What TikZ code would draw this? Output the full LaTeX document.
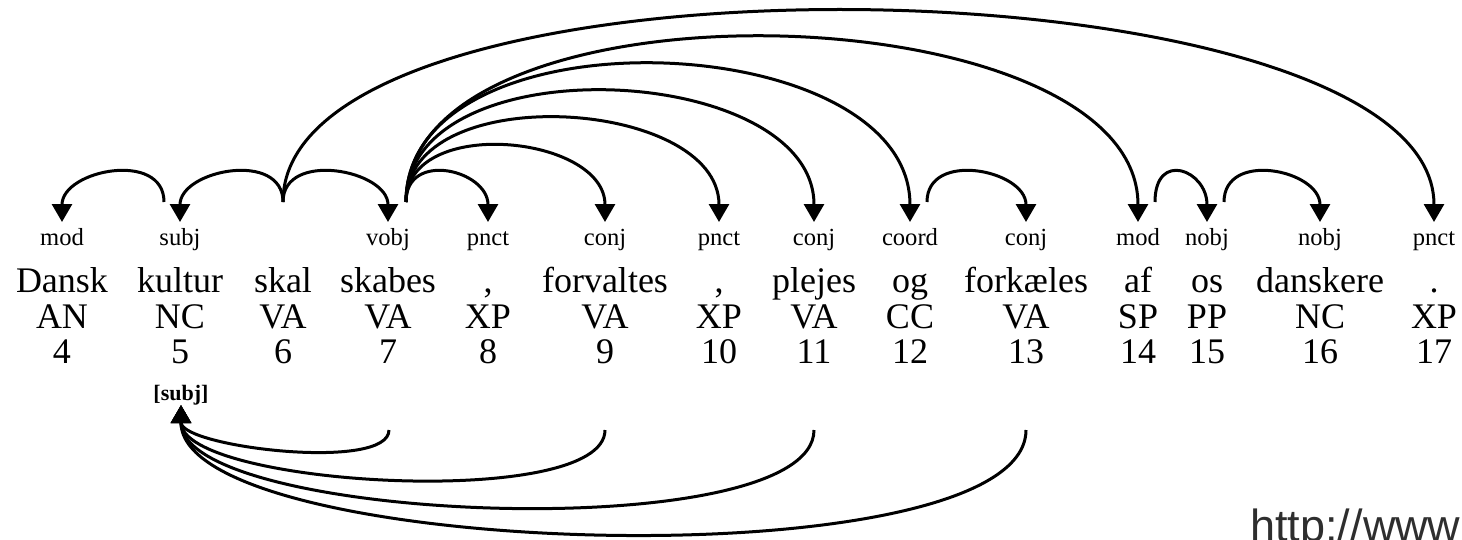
\documentclass[tikz,border=0pt]{standalone}
\usepackage{fontspec}
\setmainfont{Liberation Serif}
\newfontfamily\urlfont{Liberation Sans}
\usetikzlibrary{arrows.meta}

\tikzset{
  word/.style={anchor=base, inner sep=0pt, font=\fontsize{18}{18}\selectfont},
  rel/.style={anchor=base, inner sep=0pt, font=\fontsize{12.3}{12.3}\selectfont},
  dep/.style={line width=1.5pt, -{Triangle[length=9pt,width=10pt]}}
}

\begin{document}
\begin{tikzpicture}[x=0.5pt,y=-0.5pt]
\useasboundingbox (0,0) rectangle (1462,540);
\clip (0,0) rectangle (1462,540);
% arrow tips (dependents)
\coordinate (d4) at (62,222);
\coordinate (d5) at (180,222);
\coordinate (d7) at (388,222);
\coordinate (d8) at (488,222);
\coordinate (d9) at (605,222);
\coordinate (d10) at (719,222);
\coordinate (d11) at (814,222);
\coordinate (d12) at (910,222);
\coordinate (d13) at (1026,222);
\coordinate (d14) at (1138,222);
\coordinate (d15) at (1207,222);
\coordinate (d16) at (1320,222);
\coordinate (d17) at (1434,222);
% arc feet (heads)
\coordinate (g5) at (164,202);
\coordinate (g6) at (283,202);
\coordinate (g7) at (406,202);
\coordinate (g12) at (927,202);
\coordinate (g14) at (1155,202);
\coordinate (g15) at (1224,202);
% Dansk
\node[rel] (r4) at (62,245) {mod};
\node[word] (w4) at (62,292) {Dansk};
\node[word] (t4) at (62,328) {AN};
\node[word] (n4) at (62,363) {4};
% kultur
\node[rel] (r5) at (180,245) {subj};
\node[word] (w5) at (180,292) {kultur};
\node[word] (t5) at (180,328) {NC};
\node[word] (n5) at (180,363) {5};
\node[anchor=base, inner sep=0pt, font=\bfseries\fontsize{11}{11}\selectfont] (s5) at (181,400) {[subj]};
% skal
\node[word] (w6) at (283,292) {skal};
\node[word] (t6) at (283,328) {VA};
\node[word] (n6) at (283,363) {6};
% skabes
\node[rel] (r7) at (388,245) {vobj};
\node[word] (w7) at (388,292) {skabes};
\node[word] (t7) at (388,328) {VA};
\node[word] (n7) at (388,363) {7};
% ,
\node[rel] (r8) at (488,245) {pnct};
\node[word] (w8) at (488,292) {,};
\node[word] (t8) at (488,328) {XP};
\node[word] (n8) at (488,363) {8};
% forvaltes
\node[rel] (r9) at (605,245) {conj};
\node[word] (w9) at (605,292) {forvaltes};
\node[word] (t9) at (605,328) {VA};
\node[word] (n9) at (605,363) {9};
% ,
\node[rel] (r10) at (719,245) {pnct};
\node[word] (w10) at (719,292) {,};
\node[word] (t10) at (719,328) {XP};
\node[word] (n10) at (719,363) {10};
% plejes
\node[rel] (r11) at (814,245) {conj};
\node[word] (w11) at (814,292) {plejes};
\node[word] (t11) at (814,328) {VA};
\node[word] (n11) at (814,363) {11};
% og
\node[rel] (r12) at (910,245) {coord};
\node[word] (w12) at (910,292) {og};
\node[word] (t12) at (910,328) {CC};
\node[word] (n12) at (910,363) {12};
% forkæles
\node[rel] (r13) at (1026,245) {conj};
\node[word] (w13) at (1026,292) {forkæles};
\node[word] (t13) at (1026,328) {VA};
\node[word] (n13) at (1026,363) {13};
% af
\node[rel] (r14) at (1138,245) {mod};
\node[word] (w14) at (1138,292) {af};
\node[word] (t14) at (1138,328) {SP};
\node[word] (n14) at (1138,363) {14};
% os
\node[rel] (r15) at (1207,245) {nobj};
\node[word] (w15) at (1207,292) {os};
\node[word] (t15) at (1207,328) {PP};
\node[word] (n15) at (1207,363) {15};
% danskere
\node[rel] (r16) at (1320,245) {nobj};
\node[word] (w16) at (1320,292) {danskere};
\node[word] (t16) at (1320,328) {NC};
\node[word] (n16) at (1320,363) {16};
% .
\node[rel] (r17) at (1434,245) {pnct};
\node[word] (w17) at (1434,292) {.};
\node[word] (t17) at (1434,328) {XP};
\node[word] (n17) at (1434,363) {17};
% arcs above
\draw[dep] (g5) .. controls +(0,-52) and +(0,-52) .. (d4);
\draw[dep] (g6) .. controls +(0,-52) and +(0,-52) .. (d5);
\draw[dep] (g6) .. controls +(0,-52) and +(0,-52) .. (d7);
\draw[dep] (g6) .. controls +(0,-267) and +(0,-267) .. (d17);
\draw[dep] (g7) .. controls +(0,-52) and +(0,-52) .. (d8);
\draw[dep] (g7) .. controls +(0,-87) and +(0,-87) .. (d9);
\draw[dep] (g7) .. controls +(0,-124) and +(0,-124) .. (d10);
\draw[dep] (g7) .. controls +(0,-160) and +(0,-160) .. (d11);
\draw[dep] (g7) .. controls +(0,-196) and +(0,-196) .. (d12);
\draw[dep] (g7) .. controls +(0,-232) and +(0,-232) .. (d14);
\draw[dep] (g12) .. controls +(0,-52) and +(0,-52) .. (d13);
\draw[dep] (g14) .. controls +(0,-52) and +(0,-52) .. (d15);
\draw[dep] (g15) .. controls +(0,-52) and +(0,-52) .. (d16);
% arcs below, into [subj]
\coordinate (b7) at (389,430);
\coordinate (b9) at (605,430);
\coordinate (b11) at (814,430);
\coordinate (b13) at (1026,430);
\draw[dep] (b7) .. controls +(0,42) and +(0,42) .. (s5.south);
\draw[dep] (b9) .. controls +(0,81) and +(0,81) .. (s5.south);
\draw[dep] (b11) .. controls +(0,118) and +(0,118) .. (s5.south);
\draw[dep] (b13) .. controls +(0,154) and +(0,154) .. (s5.south);
% url in the corner
\node[anchor=base west, inner sep=0pt, text=black!82, font=\urlfont\fontsize{22.5}{22.5}\selectfont] (url) at (1250,541) {http://www};
\end{tikzpicture}
\end{document}
